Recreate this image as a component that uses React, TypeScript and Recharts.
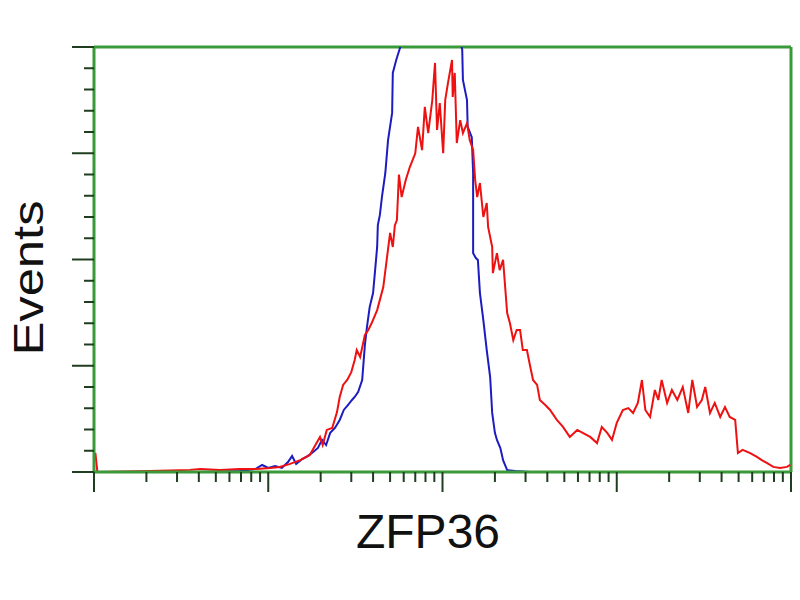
import { LineChart, Line, XAxis, YAxis, ReferenceLine } from "recharts";

// channel positions (0..1024 over 4 log decades) and event counts
const redCh = [
  2, 5, 82, 141, 156, 185, 214, 239, 259, 273, 288, 303, 317, 332, 336, 342, 350, 357, 361, 366,
  372, 378, 383, 386, 391, 398, 403, 408, 416, 420, 425, 430, 435, 439, 442, 445, 448, 452, 458, 464,
  472, 476, 482, 486, 491, 497, 501, 504, 508, 513, 516, 520, 526, 527, 530, 533, 538, 542, 548, 552,
  557, 560, 563, 567, 572, 577, 579, 585, 586, 592, 596, 601, 607, 611, 616, 621, 626, 630, 636, 641,
  645, 651, 655, 663, 670, 680, 689, 699, 710, 718, 729, 739, 746, 754, 761, 768, 777, 785, 792, 799,
  805, 810, 817, 824, 829, 834, 842, 849, 857, 865, 873, 879, 886, 893, 898, 905, 912, 920, 927, 934,
  942, 946, 953, 964, 974, 981, 989, 998, 1008, 1018, 1023
];
const redCount = [
  9, 0, 0.5, 1, 1.4, 1, 1.4, 1.4, 1.9, 2.4, 3.8, 5.6, 8, 16.5, 12.7, 19.8, 20.7, 28.2, 35.3, 41,
  43.3, 47, 52.7, 57.4, 54.1, 64.5, 66.8, 70.1, 76.2, 81, 87, 99.8, 112.5, 105.9, 116, 118.6, 140, 129.4, 137.4, 143.5,
  150, 162.4, 151.5, 171.8, 159.5, 175, 192.5, 161, 173.6, 150, 175, 183, 193.9, 176.5, 187.8, 154.8, 165.6, 159.5, 164.2, 156.2,
  151.5, 137.4, 129.4, 136, 120, 126.6, 115.3, 105.9, 93.6, 103, 95, 99.8, 74.8, 70.1, 62.1, 66.8, 66.8, 57.4, 57.4, 49.4,
  43.3, 41, 33.9, 31.5, 29.2, 24.5, 21.2, 16.5, 19.8, 18.4, 16.5, 13.6, 21.2, 18.4, 15.1, 23.1, 29.2, 30.1, 27.8, 32.5,
  43.3, 29.2, 25.9, 38.6, 33.9, 43.3, 32.5, 38.6, 33.9, 40, 27.8, 43.3, 30.6, 33.9, 40, 27.8, 32.5, 25.9, 30.6, 25.9,
  24.5, 8.9, 10.4, 8.9, 7.1, 5.6, 4.2, 2.4, 1.9, 2.4, 3.3
];

const blueCh = [
  0, 156, 214, 237, 247, 256, 266, 276, 285, 291, 297, 306, 314, 322, 329, 335, 341, 347, 354, 361,
  367, 373, 379, 383, 388, 394, 398, 401, 405, 410, 413, 416, 417, 420, 423, 428, 432, 438, 439, 444,
  450, 464, 479, 494, 508, 523, 538, 541, 542, 548, 549, 555, 557, 557, 557, 561, 564, 567, 572, 577,
  582, 585, 589, 592, 597, 601, 607, 619, 641, 1023
];
const blueCount = [
  0, 0, 0.5, 1.4, 3.3, 1.9, 2.8, 1.9, 4.7, 7.5, 3.8, 6.1, 7.5, 9.4, 11.3, 15.1, 12.7, 18.4, 20.7, 24.5,
  29.2, 31.5, 33.9, 35.3, 37.6, 43.3, 59.8, 68.2, 77.6, 84.2, 95, 105.9, 116.2, 121, 129.4, 140.7, 156.2, 169, 187.8, 193.9,
  200, 212.7, 219.8, 222, 220.7, 215, 203.3, 198.6, 184.5, 175, 162.4, 157.6, 140.7, 132.7, 103, 100.7, 99.8, 84.2, 71.5, 57.4,
  44.7, 27.8, 18.4, 15.1, 11.3, 5.6, 0.9, 0.5, 0, 0
];

const xTicks = [0, 1, 2, 3].flatMap((d) =>
  [1, 2, 3, 4, 5, 6, 7, 8, 9].map((k) => Math.round(256 * (d + Math.log10(k))))
).concat([1024]);
const yTicks = Array.from({ length: 21 }, (_, i) => i * 10);

const redData = redCh.map((ch, i) => ({ ch, count: redCount[i] }));
const blueData = blueCh.map((ch, i) => ({ ch, count: blueCount[i] }));

const FRAME = "#3a9a3a";
const TICK = "#1f3d1f";

function XTick(props: any) {
  const { x, y, payload } = props;
  const major = payload.value % 256 === 0;
  return <line x1={x} x2={x} y1={y} y2={y + (major ? 20 : 10)} stroke={TICK} strokeWidth={2} />;
}

function YTick(props: any) {
  const { x, y, payload } = props;
  const major = payload.value % 50 === 0;
  return <line x1={x} x2={x - (major ? 22 : 10)} y1={y} y2={y} stroke={TICK} strokeWidth={2} />;
}

export default function App() {
  return (
    <div style={{ position: "absolute", left: 0, top: 0, width: 800, height: 600, background: "#fff" }}>
      <LineChart width={800} height={600} margin={{ top: 47, right: 9, bottom: 98, left: 64 }}>
        <XAxis
          dataKey="ch"
          type="number"
          domain={[0, 1024]}
          ticks={xTicks}
          interval={0}
          allowDataOverflow
          height={30}
          tickSize={0}
          tickMargin={0}
          tickLine={false}
          tick={<XTick />}
          axisLine={{ stroke: FRAME, strokeWidth: 3 }}
        />
        <YAxis
          type="number"
          domain={[0, 200]}
          ticks={yTicks}
          interval={0}
          allowDataOverflow
          width={30}
          tickSize={0}
          tickMargin={0}
          tickLine={false}
          tick={<YTick />}
          axisLine={{ stroke: FRAME, strokeWidth: 3 }}
        />
        <ReferenceLine y={200} stroke={FRAME} strokeWidth={3} />
        <ReferenceLine x={1024} stroke={FRAME} strokeWidth={3} />
        <Line data={blueData} dataKey="count" type="linear" stroke="#1c1cc0" strokeWidth={2} dot={false} isAnimationActive={false} />
        <Line data={redData} dataKey="count" type="linear" stroke="#ee1111" strokeWidth={2} dot={false} isAnimationActive={false} />
      </LineChart>
      <svg width={800} height={600} style={{ position: "absolute", left: 0, top: 0, pointerEvents: "none" }}>
        <text x={428} y={548} textAnchor="middle" fontSize={48} fontFamily="'Liberation Sans', Arial, sans-serif" fill="#111">
          ZFP36
        </text>
        <text
          transform="translate(43,278) rotate(-90)"
          textAnchor="middle"
          fontSize={42}
          textLength={155}
          lengthAdjust="spacingAndGlyphs"
          fontFamily="'Liberation Sans', Arial, sans-serif"
          fill="#111"
        >
          Events
        </text>
      </svg>
    </div>
  );
}
